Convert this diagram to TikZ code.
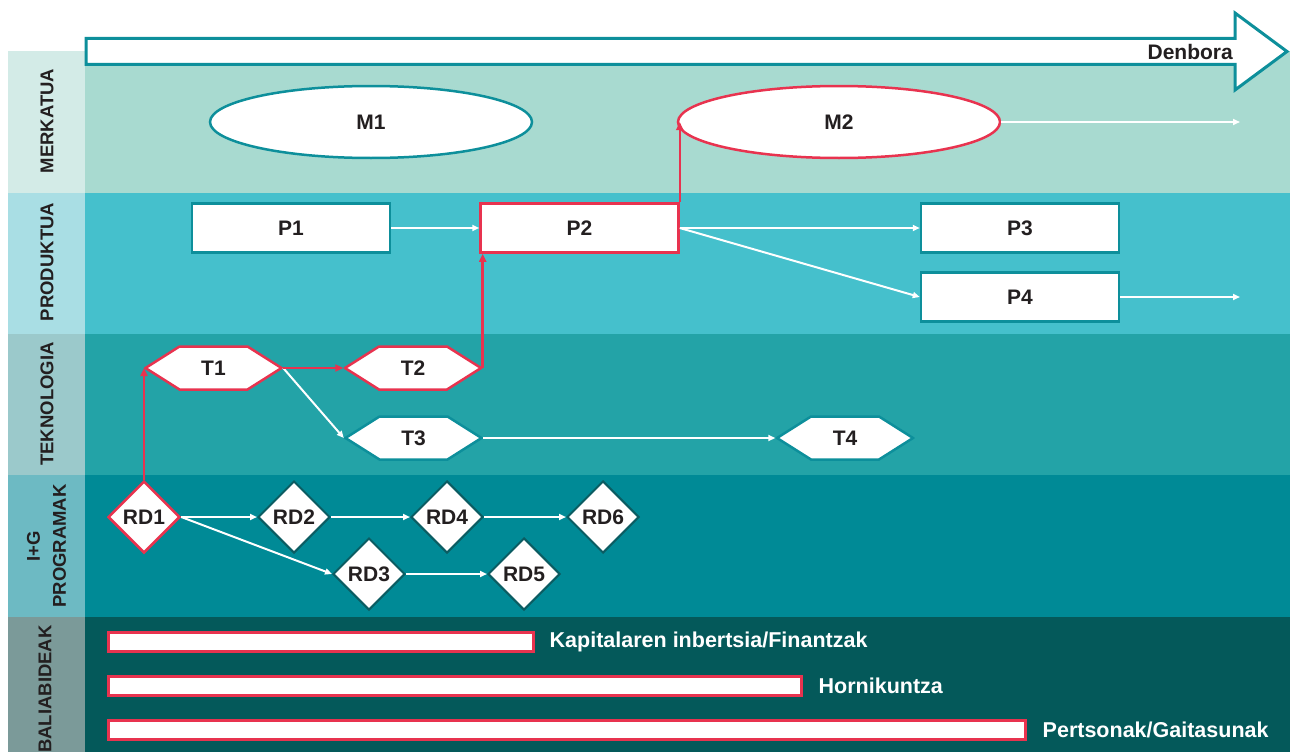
\documentclass[tikz,border=0pt]{standalone}
\usepackage{fontspec}
\setmainfont{Liberation Sans}
\usetikzlibrary{arrows.meta,shapes.geometric,calc}

% band colours (side label cell / main area)
\definecolor{merkL}{HTML}{D3EBE7}
\definecolor{merkM}{HTML}{A8DAD0}
\definecolor{prodL}{HTML}{A9DEE4}
\definecolor{prodM}{HTML}{45C0CC}
\definecolor{teknL}{HTML}{9BC9CB}
\definecolor{teknM}{HTML}{23A3A7}
\definecolor{igL}{HTML}{6DBAC3}
\definecolor{igM}{HTML}{008A96}
\definecolor{balL}{HTML}{7B9A99}
\definecolor{balM}{HTML}{04595A}
% outlines and text
\definecolor{tealc}{HTML}{0D8F9B}
\definecolor{redc}{HTML}{E8334F}
\definecolor{darkd}{HTML}{0B5C62}
\definecolor{inkc}{HTML}{231F20}

\newcommand\nodefont{\fontsize{21}{21}\selectfont\bfseries}
\newcommand\sidefont{\fontsize{18.5}{26}\selectfont\bfseries}
\newcommand\resfont{\fontsize{21.5}{22}\selectfont\bfseries}

\begin{document}
\begin{tikzpicture}[x=1pt,y=-1pt,
  sidelabel/.style={rotate=90, font=\sidefont, text=inkc, align=center},
  ell/.style={ellipse, minimum width=322pt, minimum height=72pt, inner sep=0pt,
    fill=white, line width=2.5pt, font=\nodefont, text=inkc},
  pbox/.style={rectangle, minimum width=198pt, minimum height=49pt, inner sep=0pt,
    fill=white, line width=2.5pt, font=\nodefont, text=inkc},
  hex/.style={minimum width=139pt, minimum height=46pt, inner sep=0pt,
    font=\nodefont, text=inkc,
    path picture={\filldraw[fill=white, draw=#1, line width=2.5pt, line join=miter]
      ($(path picture bounding box.west)+(1.5pt,0pt)$)
      -- ($(path picture bounding box.north west)+(35.5pt,-1.5pt)$)
      -- ($(path picture bounding box.north east)+(-35.5pt,-1.5pt)$)
      -- ($(path picture bounding box.east)+(-1.5pt,0pt)$)
      -- ($(path picture bounding box.south east)+(-35.5pt,1.5pt)$)
      -- ($(path picture bounding box.south west)+(35.5pt,1.5pt)$)
      -- cycle;}},
  dia/.style={diamond, minimum width=72pt, minimum height=72pt, inner sep=0pt,
    fill=white, draw=darkd, line width=2pt, font=\nodefont, text=inkc},
  rbar/.style={rectangle, minimum height=19pt, inner sep=0pt, anchor=west,
    fill=white, draw=redc, line width=2.5pt},
  reslabel/.style={anchor=west, font=\resfont, text=white, inner sep=0pt},
  wline/.style={draw=white, line width=2pt, -{Triangle[length=7pt,width=6pt]}},
  rline/.style={draw=redc, line width=2.5pt, -{Triangle[length=8pt,width=7pt]}}
]
\useasboundingbox (0,0) rectangle (1290,752);

% horizontal bands
\fill[merkL] (8,51) rectangle (85,193);
\fill[merkM] (85,51) rectangle (1290,193);
\fill[prodL] (8,193) rectangle (85,334);
\fill[prodM] (85,193) rectangle (1290,334);
\fill[teknL] (8,334) rectangle (85,475);
\fill[teknM] (85,334) rectangle (1290,475);
\fill[igL] (8,475) rectangle (85,617);
\fill[igM] (85,475) rectangle (1290,617);
\fill[balL] (8,617) rectangle (85,752);
\fill[balM] (85,617) rectangle (1290,752);

% time arrow
\draw[tealc, line width=3pt, fill=white, line join=miter]
  (86,38.5) -- (1235,38.5) -- (1235,13) -- (1287,51.5) -- (1235,90) -- (1235,64.5) -- (86,64.5) -- cycle;
\node[anchor=east, font=\nodefont, text=inkc, inner sep=0pt] (denbora) at (1233,52) {Denbora};

% side labels
\node[sidelabel] (lmerk) at (47,121) {MERKATUA};
\node[sidelabel] (lprod) at (47,262) {PRODUKTUA};
\node[sidelabel] (ltekn) at (47,404) {TEKNOLOGIA};
\node[sidelabel] (lig) at (46.5,546) {I+G\\PROGRAMAK};
\node[sidelabel] (lbal) at (45,689) {BALIABIDEAK};

% market
\node[ell, draw=tealc] (M1) at (371,122) {M1};
\node[ell, draw=redc] (M2) at (839,122) {M2};
\coordinate (mend) at (1240,122);

% products
\node[pbox, draw=tealc] (P1) at (291,228) {P1};
\node[pbox, draw=redc] (P2) at (579.5,228) {P2};
\node[pbox, draw=tealc] (P3) at (1020,228) {P3};
\node[pbox, draw=tealc] (P4) at (1020,297) {P4};
\coordinate (pend) at (1240,297);

% technologies
\node[hex=redc] (T1) at (213.5,368) {T1};
\node[hex=redc] (T2) at (413,368) {T2};
\node[hex=tealc] (T3) at (413.5,438) {T3};
\node[hex=tealc] (T4) at (845,438) {T4};

% R&D programmes
\node[dia, draw=redc, line width=2.5pt] (RD1) at (144,517) {RD1};
\node[dia] (RD2) at (294,517) {RD2};
\node[dia] (RD4) at (447,517) {RD4};
\node[dia] (RD6) at (603,517) {RD6};
\node[dia] (RD3) at (369,574) {RD3};
\node[dia] (RD5) at (524,574) {RD5};

% resources
\node[rbar, minimum width=425pt] (B1) at (107,642) {};
\node[rbar, minimum width=693pt] (B2) at (107,686) {};
\node[rbar, minimum width=917pt] (B3) at (107,730) {};
\node[reslabel] (L1) at ([xshift=15pt]B1.east) {Kapitalaren inbertsia/Finantzak};
\node[reslabel] (L2) at ([xshift=16pt]B2.east) {Hornikuntza};
\node[reslabel] (L3) at ([xshift=16pt]B3.east) {Pertsonak/Gaitasunak};

% white connectors
\draw[wline] (M2.east) -- (mend);
\draw[wline] (P1.east) -- (P2.west);
\draw[wline] (P2.east) -- (P3.west);
\draw[wline] (P2.east) -- (P4.west);
\draw[wline] (P4.east) -- (pend);
\draw[wline] (T1.east) -- (T3.west);
\draw[wline] (T3.east) -- (T4.west);
\draw[wline] (RD1.east) -- (RD2.west);
\draw[wline] (RD1.east) -- (RD3.west);
\draw[wline] (RD2.east) -- (RD4.west);
\draw[wline] (RD4.east) -- (RD6.west);
\draw[wline] (RD3.east) -- (RD5.west);

% critical path
\draw[rline] (RD1.north) -- (RD1.north |- T1.west);
\draw[rline] (T1.east) -- (T2.west);
\draw[rline] (T2.east) -- (T2.east |- P2.south);
\draw[rline] (P2.north east) -- (P2.north east |- M2.west);
\end{tikzpicture}
\end{document}
